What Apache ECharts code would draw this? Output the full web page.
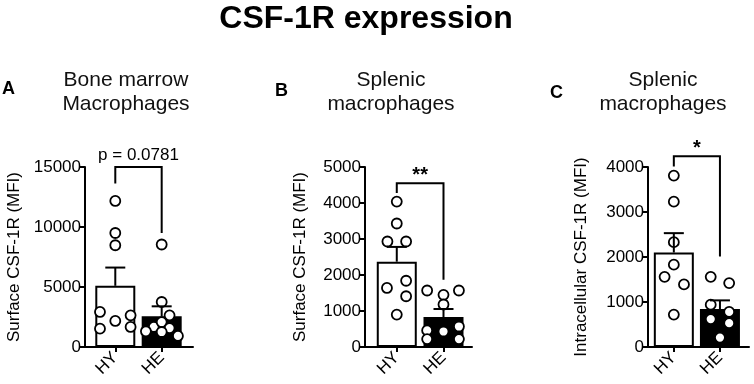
<!DOCTYPE html>
<html>
<head>
<meta charset="utf-8">
<script src="https://cdn.jsdelivr.net/npm/echarts@6/dist/echarts.min.js"></script>
<style>
  html, body { margin: 0; padding: 0; background: #fff; }
  #chart { width: 754px; height: 384px; }
</style>
</head>
<body>
<div id="chart"></div>
<script>
// groups on the x axis
const groups = ['HY', 'HE'];

// A: bone marrow macrophages, surface CSF-1R
const aHY = [12170, 9500, 8480, 2920, 1530, 2170, 2640, 1670];
const aHYJitter = [0, 0, 0, -0.33, -0.33, 0, 0.33, 0.33];
const aHE = [8540, 3750, 2640, 1670, 2080, 1580, 1310, 1250, 920];
const aHEJitter = [0, 0, 0.17, -0.17, 0, 0.17, -0.34, 0, 0.35];
const aMeans = [5100, 2560];
const aSems = [1520, 830];
const aBracket = [15000, 13620, 9500]; // top, left end, right end
const aSig = 'p = 0.0781';

// B: splenic macrophages, surface CSF-1R
const bHY = [4040, 3430, 2930, 2930, 1640, 1840, 1410, 900];
const bHYJitter = [0, 0, -0.2, 0.2, -0.21, 0.2, 0.2, 0];
const bHE = [1570, 1450, 1180, 1570, 460, 430, 570, 220, 220];
const bHEJitter = [-0.35, 0, 0, 0.33, -0.35, 0, 0.33, -0.35, 0.33];
const bMeans = [2370, 833];
const bSems = [410, 222];
const bBracket = [4550, 4280, 1870];
const bSig = '**';

// C: splenic macrophages, intracellular CSF-1R
const cHY = [3810, 3230, 2330, 1830, 1560, 1390, 720];
const cHYJitter = [0, 0, 0, 0, -0.2, 0.22, 0];
const cHE = [1560, 1420, 940, 780, 620, 530, 210];
const cHEJitter = [-0.2, 0.2, -0.2, 0.2, -0.2, 0.2, 0];
const cMeans = [2100, 844];
const cSems = [430, 192];
const cBracket = [4240, 4010, 2010];
const cSig = '*';

const FONT = 'Liberation Sans, Arial, Helvetica, sans-serif';

const panels = [
  { letter: 'A', sub: 'Bone marrow\nMacrophages', yName: 'Surface CSF-1R (MFI)', yMax: 15000, yStep: 5000,
    hy: aHY, hyJ: aHYJitter, he: aHE, heJ: aHEJitter, means: aMeans, sems: aSems, bracket: aBracket, sig: aSig,
    grid: { left: 85, top: 167, width: 108, height: 180 }, xMin: 0.347, xMax: 2.675, nameGap: 62,
    letterPos: [2, 80], subX: 126, sigSize: 17, sigBold: false, sigGap: 3 },
  { letter: 'B', sub: 'Splenic\nmacrophages', yName: 'Surface CSF-1R (MFI)', yMax: 5000, yStep: 1000,
    hy: bHY, hyJ: bHYJitter, he: bHE, heJ: bHEJitter, means: bMeans, sems: bSems, bracket: bBracket, sig: bSig,
    grid: { left: 365, top: 167, width: 107, height: 180 }, xMin: 0.32, xMax: 2.61, nameGap: 56,
    letterPos: [275, 82], subX: 391, sigSize: 20, sigBold: true, sigGap: -2 },
  { letter: 'C', sub: 'Splenic\nmacrophages', yName: 'Intracellular CSF-1R (MFI)', yMax: 4000, yStep: 1000,
    hy: cHY, hyJ: cHYJitter, he: cHE, heJ: cHEJitter, means: cMeans, sems: cSems, bracket: cBracket, sig: cSig,
    grid: { left: 648, top: 167, width: 101, height: 180 }, xMin: 0.44, xMax: 2.63, nameGap: 58,
    letterPos: [550, 84], subX: 663, sigSize: 20, sigBold: true, sigGap: -2 }
];

const titles = [{
  text: 'CSF-1R expression', left: 366, top: 3, textAlign: 'center', padding: 0,
  textStyle: { fontFamily: FONT, fontWeight: 'bold', fontSize: 32, color: '#000' }
}];
const grids = [], xAxes = [], yAxes = [], series = [];

panels.forEach((p, i) => {
  titles.push({
    text: p.letter, left: p.letterPos[0], top: p.letterPos[1], padding: 0,
    textStyle: { fontFamily: FONT, fontWeight: 'bold', fontSize: 18, color: '#000' }
  });
  titles.push({
    text: p.sub, left: p.subX, top: 68, textAlign: 'center', padding: 0,
    textStyle: { fontFamily: FONT, fontWeight: 'normal', fontSize: 21, lineHeight: 24, color: '#111', align: 'center' }
  });

  grids.push(p.grid);

  xAxes.push({
    gridIndex: i, type: 'value', min: p.xMin, max: p.xMax,
    splitLine: { show: false },
    axisLine: { show: true, onZero: false, lineStyle: { color: '#000', width: 2 } },
    axisTick: { show: true, length: 5, lineStyle: { color: '#000', width: 2 }, customValues: [1, 2] },
    axisLabel: {
      customValues: [1, 2], rotate: 45, margin: 8,
      fontFamily: FONT, fontSize: 17, color: '#000',
      formatter: v => groups[Math.round(v) - 1] || ''
    }
  });

  yAxes.push({
    gridIndex: i, type: 'value', min: 0, max: p.yMax, interval: p.yStep,
    name: p.yName, nameLocation: 'middle', nameGap: p.nameGap,
    nameTextStyle: { fontFamily: FONT, fontSize: 17, color: '#000' },
    splitLine: { show: false },
    axisLine: { show: true, lineStyle: { color: '#000', width: 2 } },
    axisTick: { show: true, length: 5, lineStyle: { color: '#000', width: 2 } },
    axisLabel: { margin: 4, fontFamily: FONT, fontSize: 17, color: '#000', formatter: v => String(v) }
  });

  // bars (group means)
  series.push({
    type: 'bar', xAxisIndex: i, yAxisIndex: i, barWidth: 40, z: 2,
    data: p.means.map((m, k) => ({
      value: [k + 1, m],
      itemStyle: k === 0
        ? { color: '#fff', borderColor: '#000', borderWidth: 2 }
        : { color: '#000', borderColor: '#000', borderWidth: 2 }
    }))
  });

  // individual animals
  const pts = p.hy.map((v, k) => [1 + p.hyJ[k], v]).concat(p.he.map((v, k) => [2 + p.heJ[k], v]));
  series.push({
    type: 'scatter', xAxisIndex: i, yAxisIndex: i, symbol: 'circle', symbolSize: 10, z: 3,
    itemStyle: { color: '#fff', borderColor: '#000', borderWidth: 1.8, opacity: 1 },
    data: pts
  });

  // SEM error bars (upper only)
  series.push({
    type: 'custom', xAxisIndex: i, yAxisIndex: i, z: 4,
    data: p.means.map((m, k) => [k + 1, m, p.sems[k]]),
    renderItem: (params, api) => {
      const x = api.value(0), m = api.value(1), s = api.value(2);
      const b = api.coord([x, m]);
      const t = api.coord([x, m + s]);
      const st = { stroke: '#000', lineWidth: 2 };
      return {
        type: 'group', children: [
          { type: 'line', shape: { x1: b[0], y1: b[1], x2: t[0], y2: t[1] }, style: st },
          { type: 'line', shape: { x1: t[0] - 10, y1: t[1], x2: t[0] + 10, y2: t[1] }, style: st }
        ]
      };
    }
  });

  // significance bracket
  series.push({
    type: 'custom', xAxisIndex: i, yAxisIndex: i, z: 5, clip: false,
    data: [[1, 2, p.bracket[0], p.bracket[1], p.bracket[2]]],
    renderItem: (params, api) => {
      const l = api.coord([api.value(0), api.value(3)]);
      const lt = api.coord([api.value(0), api.value(2)]);
      const rt = api.coord([api.value(1), api.value(2)]);
      const r = api.coord([api.value(1), api.value(4)]);
      return {
        type: 'group', children: [
          { type: 'polyline', shape: { points: [l, lt, rt, r] }, style: { stroke: '#000', lineWidth: 2, fill: null } },
          {
            type: 'text', x: (lt[0] + rt[0]) / 2, y: lt[1] - p.sigGap,
            style: {
              text: p.sig, align: 'center', verticalAlign: 'bottom',
              fontFamily: FONT, fontSize: p.sigSize, fontWeight: p.sigBold ? 'bold' : 'normal', fill: '#000'
            }
          }
        ]
      };
    }
  });
});

const chart = echarts.init(document.getElementById('chart'));
chart.setOption({
  animation: false,
  backgroundColor: '#fff',
  title: titles,
  grid: grids,
  xAxis: xAxes,
  yAxis: yAxes,
  series: series
});
</script>
</body>
</html>
